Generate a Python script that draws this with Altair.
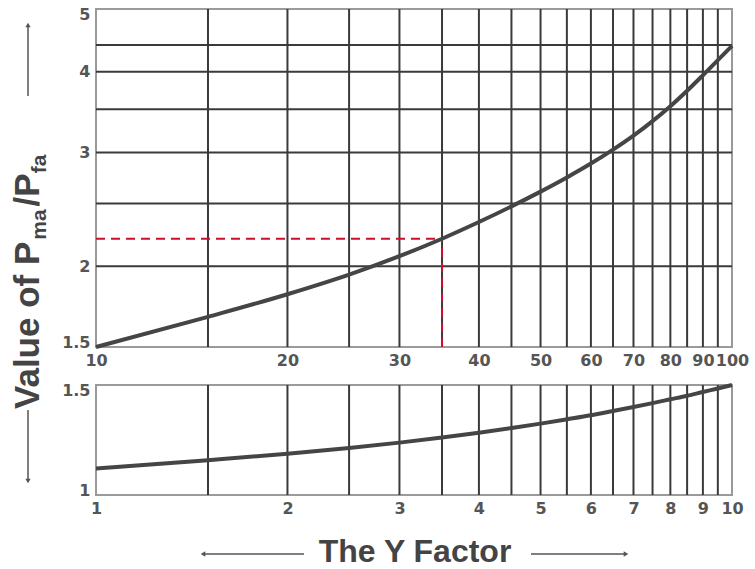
import altair as alt
import pandas as pd

# ---------------- data ----------------
top_x = [10, 15, 20, 25, 30, 35, 40, 45, 50, 55, 60, 65, 70, 75, 80, 85, 90, 95, 100]
top_y = [1.500, 1.670, 1.810, 1.941, 2.073, 2.206, 2.341, 2.475, 2.609, 2.744, 2.883, 3.030,
         3.185, 3.354, 3.537, 3.737, 3.949, 4.167, 4.386]
bot_x = [1, 1.5, 2, 2.5, 3, 3.5, 4, 4.5, 5, 5.5, 6, 6.5, 7, 7.5, 8, 8.5, 9, 9.5, 10]
bot_y = [1.103, 1.137, 1.164, 1.189, 1.213, 1.236, 1.258, 1.280, 1.301, 1.322, 1.342, 1.363,
         1.383, 1.403, 1.423, 1.442, 1.462, 1.481, 1.500]

top_xgrid = [15, 20, 25, 30, 35, 40, 45, 50, 55, 60, 65, 70, 75, 80, 85, 90, 95]
top_ygrid = [2, 2.5, 3, 3.5, 4, 4.4]
bot_xgrid = [1.5, 2, 2.5, 3, 3.5, 4, 4.5, 5, 5.5, 6, 6.5, 7, 7.5, 8, 8.5, 9, 9.5]

top_xlabels = [10, 20, 30, 40, 50, 60, 70, 80, 90, 100]
top_ylabels = [1.5, 2, 3, 4, 5]
bot_xlabels = [1, 2, 3, 4, 5, 6, 7, 8, 9, 10]
bot_ylabels = [1, 1.5]

marker_x = 35
marker_y = 2.206

y_title_main = ["Value of P", "/P"]
y_title_sub = ["ma", "fa"]
x_title = "The Y Factor"

# ---------------- style ----------------
GRID = "#3a3a3a"
CURVE = "#454545"
RED = "#c8102e"
TXT = "#444444"
ARROW = "#555555"
W, H_TOP, H_BOT = 636, 338, 110

# Arial-bold advance widths (per 1000 em) for stacking the rotated title pieces
AW = {"V": 667, "a": 556, "l": 278, "u": 611, "e": 556, " ": 278, "o": 611, "f": 333,
      "P": 667, "m": 889, "/": 278}


def tw(s, fs):
    return sum(AW[c] for c in s) * fs / 1000.0


xs_top = alt.Scale(type="log", domain=[10, 100], nice=False)
ys_top = alt.Scale(type="log", domain=[1.5, 5], nice=False)
xs_bot = alt.Scale(type="log", domain=[1, 10], nice=False)
ys_bot = alt.Scale(type="log", domain=[1, 1.5], nice=False)

ax_xt = alt.Axis(values=top_xlabels, title=None, format="~g", labelPadding=5,
                 labelFlush=False, labelOverlap=False)
ax_yt = alt.Axis(values=top_ylabels, title=None, format="~g", labelPadding=6,
                 labelFlush=True, labelFlushOffset=3, labelOverlap=False)
ax_xb = alt.Axis(values=bot_xlabels, title=None, format="~g", labelPadding=5,
                 labelFlush=False, labelOverlap=False)
ax_yb = alt.Axis(values=bot_ylabels, title=None, format="~g", labelPadding=6,
                 labelFlush=True, labelFlushOffset=3, labelOverlap=False)

one = pd.DataFrame({"k": [0]})

# ---------------- top panel ----------------
df_top = pd.DataFrame({"x": top_x, "y": top_y})
vgrid_t = alt.Chart(pd.DataFrame({"x": top_xgrid})).mark_rule(color=GRID, strokeWidth=2).encode(
    x=alt.X("x:Q", scale=xs_top, axis=ax_xt))
hgrid_t = alt.Chart(pd.DataFrame({"y": top_ygrid})).mark_rule(color=GRID, strokeWidth=2).encode(
    y=alt.Y("y:Q", scale=ys_top, axis=ax_yt))
red_h = alt.Chart(pd.DataFrame({"x0": [top_x[0]], "x1": [marker_x], "y": [marker_y]})).mark_rule(
    color=RED, strokeWidth=2, strokeDash=[9, 6]).encode(
    x=alt.X("x0:Q", scale=xs_top, axis=ax_xt), x2="x1:Q",
    y=alt.Y("y:Q", scale=ys_top, axis=ax_yt))
red_v = alt.Chart(pd.DataFrame({"x": [marker_x], "y0": [top_y[0]], "y1": [marker_y]})).mark_rule(
    color=RED, strokeWidth=2, strokeDash=[9, 6]).encode(
    x=alt.X("x:Q", scale=xs_top, axis=ax_xt),
    y=alt.Y("y0:Q", scale=ys_top, axis=ax_yt), y2="y1:Q")
curve_t = alt.Chart(df_top).mark_line(color=CURVE, strokeWidth=4, interpolate="monotone").encode(
    x=alt.X("x:Q", scale=xs_top, axis=ax_xt),
    y=alt.Y("y:Q", scale=ys_top, axis=ax_yt))

# rotated y-title made of pieces (main text + subscripts)
FS_MAIN, FS_SUB = 35, 21
BASE_X, SUB_X = -57, -50
y_cursor = 400
title_layers = []
for main, sub in zip(y_title_main, y_title_sub):
    title_layers.append(alt.Chart(one).mark_text(
        angle=270, align="left", baseline="alphabetic", font="Liberation Sans",
        fontWeight="bold", fontSize=FS_MAIN, color=TXT).encode(
        x=alt.value(BASE_X), y=alt.value(y_cursor), text=alt.value(main)))
    y_cursor -= tw(main, FS_MAIN)
    title_layers.append(alt.Chart(one).mark_text(
        angle=270, align="left", baseline="alphabetic", font="Liberation Sans",
        fontWeight="bold", fontSize=FS_SUB, color=TXT).encode(
        x=alt.value(SUB_X), y=alt.value(y_cursor), text=alt.value(sub)))
    y_cursor -= tw(sub, FS_SUB) + 3

up_line = alt.Chart(one).mark_rule(color=ARROW, strokeWidth=1.5).encode(
    x=alt.value(-68), y=alt.value(16), y2=alt.value(87))
up_head = alt.Chart(one).mark_point(shape="triangle-up", filled=True, size=28, color=ARROW, opacity=1).encode(
    x=alt.value(-68), y=alt.value(16))
dn_line = alt.Chart(one).mark_rule(color=ARROW, strokeWidth=1.5).encode(
    x=alt.value(-68), y=alt.value(401), y2=alt.value(472))
dn_head = alt.Chart(one).mark_point(shape="triangle-down", filled=True, size=28, color=ARROW, opacity=1).encode(
    x=alt.value(-68), y=alt.value(472))

top = alt.layer(vgrid_t, hgrid_t, red_h, red_v, curve_t, *title_layers,
                up_line, up_head, dn_line, dn_head).properties(width=W, height=H_TOP)

# ---------------- bottom panel ----------------
df_bot = pd.DataFrame({"x": bot_x, "y": bot_y})
vgrid_b = alt.Chart(pd.DataFrame({"x": bot_xgrid})).mark_rule(color=GRID, strokeWidth=2).encode(
    x=alt.X("x:Q", scale=xs_bot, axis=ax_xb))
curve_b = alt.Chart(df_bot).mark_line(color=CURVE, strokeWidth=4, interpolate="monotone").encode(
    x=alt.X("x:Q", scale=xs_bot, axis=ax_xb),
    y=alt.Y("y:Q", scale=ys_bot, axis=ax_yb))

xt = alt.Chart(one).mark_text(align="center", baseline="alphabetic", font="Liberation Sans",
                              fontWeight="bold", fontSize=32, color=TXT).encode(
    x=alt.value(319), y=alt.value(177), text=alt.value(x_title))
l_line = alt.Chart(one).mark_rule(color=ARROW, strokeWidth=1.5).encode(
    x=alt.value(107), x2=alt.value(208), y=alt.value(169))
l_head = alt.Chart(one).mark_point(shape="triangle-left", filled=True, size=28, color=ARROW, opacity=1).encode(
    x=alt.value(107), y=alt.value(169))
r_line = alt.Chart(one).mark_rule(color=ARROW, strokeWidth=1.5).encode(
    x=alt.value(435), x2=alt.value(530), y=alt.value(169))
r_head = alt.Chart(one).mark_point(shape="triangle-right", filled=True, size=28, color=ARROW, opacity=1).encode(
    x=alt.value(530), y=alt.value(169))

bottom = alt.layer(vgrid_b, curve_b, xt, l_line, l_head, r_line, r_head).properties(width=W, height=H_BOT)

chart = alt.vconcat(top, bottom, spacing=38, bounds="flush").properties(
    padding={"left": 10, "top": 5, "right": 5, "bottom": 5}
).configure(background="white").configure_view(
    stroke="#9a9a9a", strokeWidth=2
).configure_axis(
    labelFont="DejaVu Sans", labelFontWeight="bold", labelFontSize=16, labelColor="#555555",
    domain=False, ticks=False, tickSize=0, grid=False
)

chart.save("out.html", embed_options={"renderer": "svg", "actions": False})
